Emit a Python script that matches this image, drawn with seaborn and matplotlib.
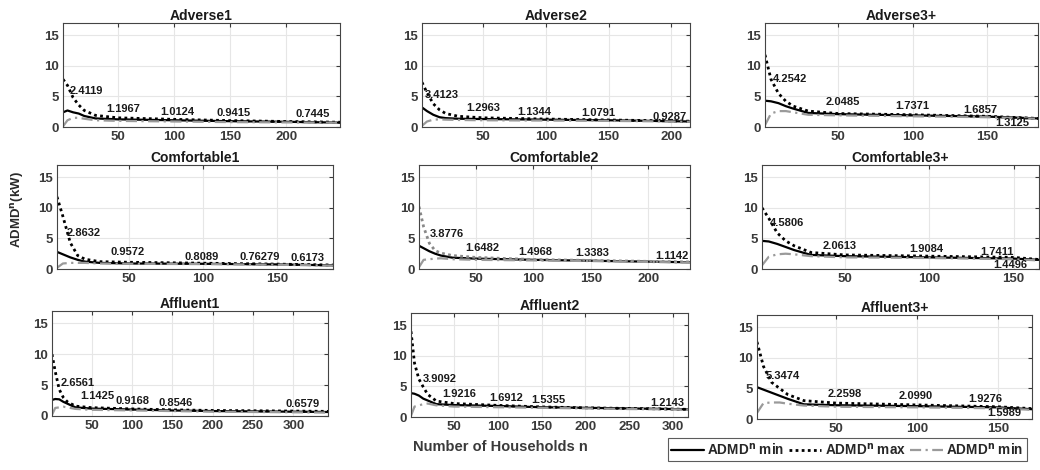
import numpy as np
import pandas as pd
import matplotlib as mpl
import matplotlib.pyplot as plt
import seaborn as sns

sns.set_style("white")
plt.rcParams["font.family"] = ["Liberation Sans", "DejaVu Sans"]
plt.rcParams["font.weight"] = "bold"
plt.rcParams["mathtext.default"] = "bf"

titles = ["Adverse1", "Adverse2", "Adverse3+",
          "Comfortable1", "Comfortable2", "Comfortable3+",
          "Affluent1", "Affluent2", "Affluent3+"]

# number of households at which the curves were read
n_A1 = [1, 5, 10, 15, 20, 30, 50, 100, 150, 200, 248]
n_A2 = [1, 5, 10, 15, 20, 30, 50, 100, 150, 200, 215]
n_A3 = [1, 5, 10, 15, 20, 30, 50, 100, 150, 184]
n_C1 = [1, 5, 10, 15, 20, 30, 50, 100, 150, 188]
n_C2 = [1, 5, 10, 15, 20, 30, 50, 100, 150, 200, 236]
n_C3 = [1, 5, 10, 15, 20, 30, 50, 100, 150, 165]
n_F1 = [1, 5, 10, 15, 20, 30, 50, 100, 150, 200, 250, 300, 343]
n_F2 = [1, 5, 10, 15, 20, 30, 50, 100, 150, 200, 250, 300, 317]
n_F3 = [1, 5, 10, 15, 20, 30, 50, 100, 150, 171]

# ADMD^n min (solid)
min_A1 = [2.4, 2.7, 2.4, 2.2, 1.8, 1.4, 1.25, 1.1, 0.95, 0.85, 0.72]
min_A2 = [3.2, 2.6, 2.0, 1.6, 1.45, 1.35, 1.3, 1.2, 1.1, 0.95, 0.9]
min_A3 = [4.3, 4.2, 3.9, 3.4, 3.0, 2.3, 2.1, 1.9, 1.7, 1.4]
min_C1 = [2.8, 2.4, 1.9, 1.5, 1.2, 1.0, 0.9, 0.85, 0.75, 0.6]
min_C2 = [3.8, 3.4, 2.9, 2.5, 2.2, 1.85, 1.7, 1.5, 1.35, 1.2, 1.1]
min_C3 = [4.6, 4.5, 4.1, 3.6, 3.1, 2.3, 2.1, 1.9, 1.7, 1.5]
min_F1 = [2.6, 2.75, 2.7, 2.3, 2.0, 1.4, 1.2, 1.05, 0.9, 0.8, 0.75, 0.7, 0.65]
min_F2 = [3.9, 3.8, 3.5, 3.0, 2.7, 2.1, 1.95, 1.8, 1.6, 1.5, 1.4, 1.3, 1.25]
min_F3 = [5.2, 4.8, 4.3, 3.8, 3.3, 2.4, 2.25, 2.1, 1.9, 1.6]

# ADMD^n max (dotted)
max_A1 = [7.8, 6.8, 4.8, 3.6, 2.7, 1.9, 1.5, 1.25, 1.05, 0.9, 0.78]
max_A2 = [7.3, 5.6, 3.8, 2.8, 2.2, 1.75, 1.5, 1.3, 1.15, 1.0, 0.95]
max_A3 = [11.8, 7.8, 5.5, 4.2, 3.4, 2.6, 2.2, 2.0, 1.75, 1.4]
max_C1 = [11.8, 8.6, 4.3, 2.2, 1.6, 1.2, 1.1, 0.95, 0.8, 0.65]
max_C2 = [10.2, 6.9, 4.2, 3.0, 2.6, 2.2, 1.9, 1.55, 1.4, 1.25, 1.15]
max_C3 = [10.0, 8.3, 5.9, 4.6, 3.8, 2.7, 2.3, 2.1, 1.9, 1.55]
max_F1 = [10.0, 7.2, 4.3, 3.0, 2.3, 1.6, 1.35, 1.15, 1.0, 0.9, 0.85, 0.8, 0.75]
max_F2 = [14.0, 8.8, 6.2, 4.9, 3.7, 2.6, 2.2, 1.9, 1.65, 1.5, 1.4, 1.3, 1.25]
max_F3 = [12.6, 8.6, 6.0, 5.0, 4.0, 3.0, 2.6, 2.3, 2.0, 1.7]

# third series (grey dash-dot)
mid_A1 = [0.1, 1.1, 1.5, 1.5, 1.35, 1.1, 1.0, 0.9, 0.8, 0.75, 0.7]
mid_A2 = [0.2, 0.9, 1.2, 1.25, 1.2, 1.15, 1.1, 1.05, 1.0, 0.9, 0.85]
mid_A3 = [0.3, 2.2, 2.6, 2.6, 2.4, 2.0, 1.9, 1.75, 1.6, 1.35]
mid_C1 = [0.2, 0.9, 1.0, 1.0, 1.0, 0.9, 0.85, 0.8, 0.7, 0.55]
mid_C2 = [0.3, 1.5, 1.6, 1.7, 1.75, 1.6, 1.5, 1.4, 1.3, 1.15, 1.05]
mid_C3 = [0.6, 2.0, 2.4, 2.5, 2.4, 2.1, 1.9, 1.8, 1.6, 1.4]
mid_F1 = [0.2, 1.3, 1.4, 1.5, 1.4, 1.15, 1.0, 0.9, 0.8, 0.7, 0.65, 0.6, 0.55]
mid_F2 = [0.2, 1.7, 1.9, 2.1, 2.2, 1.9, 1.7, 1.6, 1.5, 1.4, 1.3, 1.25, 1.2]
mid_F3 = [1.0, 2.6, 2.7, 2.7, 2.5, 2.2, 2.0, 1.9, 1.75, 1.5]

# annotated values and where they sit (n, kW)
lab_A1 = ["2.4119", "1.1967", "1.0124", "0.9415", "0.7445"]
pos_A1 = [(22, 5.9), (55, 2.9), (103, 2.45), (153, 2.3), (224, 2.1)]
lab_A2 = ["3.4123", "1.2963", "1.1344", "1.0791", "0.9287"]
pos_A2 = [(17, 5.2), (50, 3.1), (91, 2.5), (142, 2.3), (199, 1.65)]
lab_A3 = ["4.2542", "2.0485", "1.7371", "1.6857", "1.3125"]
pos_A3 = [(18, 7.9), (53, 4.1), (100, 3.4), (145, 2.8), (167, 0.65)]
lab_C1 = ["2.8632", "0.9572", "0.8089", "0.76279", "0.6173"]
pos_C1 = [(19, 5.9), (49, 2.8), (99, 2.0), (138, 2.0), (171, 1.8)]
lab_C2 = ["3.8776", "1.6482", "1.4968", "1.3383", "1.1142"]
pos_C2 = [(25, 5.7), (56, 3.4), (102, 2.8), (151, 2.6), (220, 2.1)]
lab_C3 = ["4.5806", "2.0613", "1.9084", "1.7411", "1.4496"]
pos_C3 = [(16, 7.5), (47, 3.8), (98, 3.3), (140, 2.8), (148, 0.65)]
lab_F1 = ["2.6561", "1.1425", "0.9168", "0.8546", "0.6579"]
pos_F1 = [(33, 5.3), (57, 3.2), (101, 2.4), (154, 2.1), (312, 1.9)]
lab_F2 = ["3.9092", "1.9216", "1.6912", "1.5355", "1.2143"]
pos_F2 = [(34, 6.2), (56, 3.75), (110, 3.1), (158, 2.8), (293, 2.3)]
lab_F3 = ["5.3474", "2.2598", "2.0990", "1.9276", "1.5989"]
pos_F3 = [(17, 7.0), (55, 4.1), (99, 3.75), (142, 3.3), (154, 1.0)]

ns = [n_A1, n_A2, n_A3, n_C1, n_C2, n_C3, n_F1, n_F2, n_F3]
mins = [min_A1, min_A2, min_A3, min_C1, min_C2, min_C3, min_F1, min_F2, min_F3]
maxs = [max_A1, max_A2, max_A3, max_C1, max_C2, max_C3, max_F1, max_F2, max_F3]
mids = [mid_A1, mid_A2, mid_A3, mid_C1, mid_C2, mid_C3, mid_F1, mid_F2, mid_F3]
labs = [lab_A1, lab_A2, lab_A3, lab_C1, lab_C2, lab_C3, lab_F1, lab_F2, lab_F3]
poss = [pos_A1, pos_A2, pos_A3, pos_C1, pos_C2, pos_C3, pos_F1, pos_F2, pos_F3]

# axes boxes in pixels: left, right, top, bottom
boxes = [(63, 340, 23, 127), (422, 690, 23, 127), (765, 1038, 23, 127),
         (57, 333, 165, 269), (419, 690, 165, 269), (762, 1039, 165, 269),
         (52, 328, 311, 416), (411, 688, 313, 417), (757, 1032, 315, 419)]

W, H = 1040, 470
fig = plt.figure(figsize=(W / 100, H / 100), dpi=100)

tick_col = "#3a3a3a"
for i in range(9):
    l, r, t, b = boxes[i]
    ax = fig.add_axes([l / W, (H - b) / H, (r - l) / W, (b - t) / H])
    n = ns[i]
    max_col = "#888888" if titles[i] == "Comfortable2" else "black"
    sns.lineplot(x=n, y=mins[i], ax=ax, color="black", lw=1.6, label="ADMD$^n$ min")
    sns.lineplot(x=n, y=maxs[i], ax=ax, color=max_col, lw=2.0, label="ADMD$^n$ max")
    sns.lineplot(x=n, y=mids[i], ax=ax, color="#9a9a9a", lw=1.6, label="ADMD$^n$ min")
    ax.lines[1].set_linestyle((0, (1, 1.2)))
    ax.lines[2].set_linestyle((0, (5, 2, 1, 2)))
    for txt, (px, py) in zip(labs[i], poss[i]):
        ax.text(px, py, txt, ha="center", va="center", fontsize=8,
                fontweight="bold", color="#1a1a1a")
    ax.set_xlim(1, n[-1])
    ax.set_ylim(0, 17)
    ax.set_xticks(np.arange(50, n[-1] + 1, 50))
    ax.set_yticks([0, 5, 10, 15])
    ax.grid(True, color="#e6e6e6", lw=0.8)
    ax.tick_params(direction="in", length=3, top=True, right=True,
                   labelsize=9.5, colors=tick_col, pad=3)
    for lbl in ax.get_xticklabels() + ax.get_yticklabels():
        lbl.set_fontweight("bold")
    for sp in ax.spines.values():
        sp.set_color("#444444")
        sp.set_linewidth(0.8)
    ax.set_title(titles[i], fontsize=10, fontweight="bold", color="#1a1a1a", pad=2)
    ax.set_xlabel("")
    ax.set_ylabel("")
    if i == 0:
        handles, labels = ax.get_legend_handles_labels()
    ax.get_legend().remove()

fig.text(18 / W, 1 - 210 / H, "ADMD$^n$(kW)", rotation=90, ha="center", va="center",
         fontsize=9.5, fontweight="bold", color="#2a2a2a")
fig.text(500 / W, 1 - 447 / H, "Number of Households n", ha="center", va="center",
         fontsize=10.5, fontweight="bold", color="#3a3a3a")

leg = fig.legend(handles, labels, loc="lower left", bbox_to_anchor=(668 / W, 9 / H),
                 ncol=3, frameon=True, fancybox=False, handlelength=2.4,
                 handletextpad=0.25, columnspacing=0.3, borderpad=0.25,
                 borderaxespad=0, prop={"weight": "bold", "size": 9.8})
leg.get_frame().set_edgecolor("#333333")
leg.get_frame().set_linewidth(0.8)

fig.savefig("out.png", dpi=100)
